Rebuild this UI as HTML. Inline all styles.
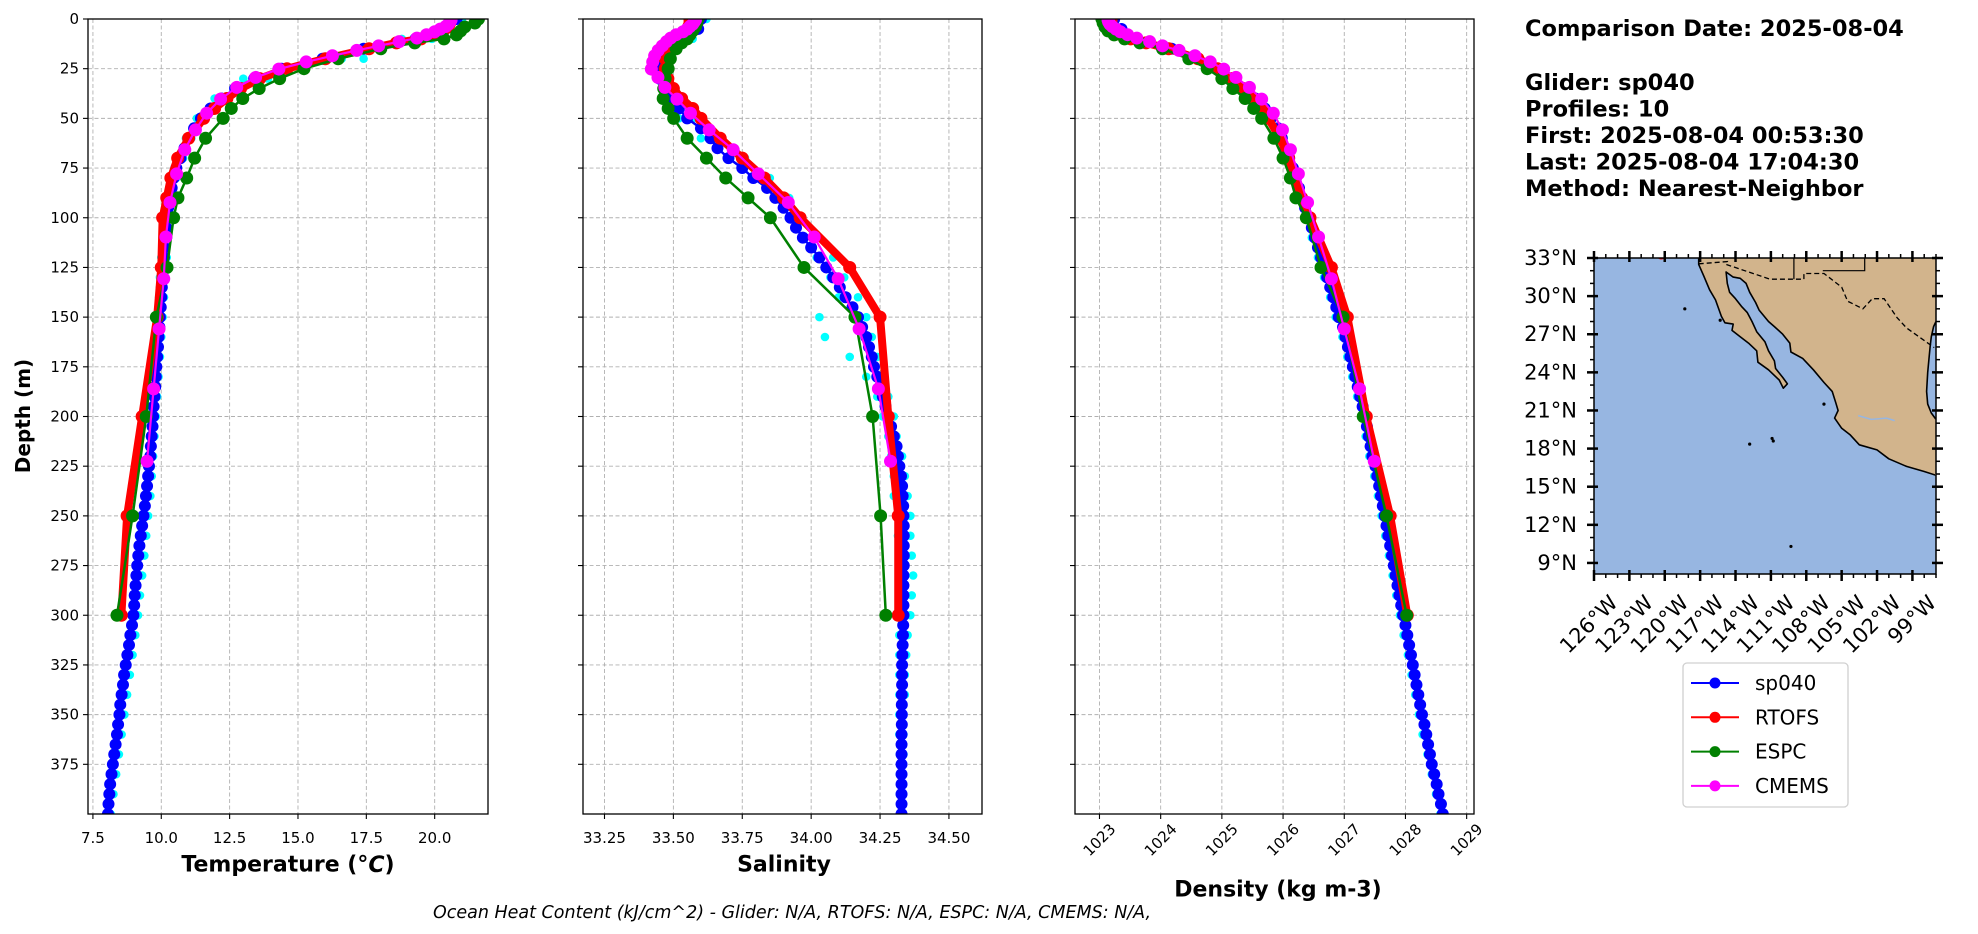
<!DOCTYPE html>
<html><head><meta charset="utf-8"><style>
html,body{margin:0;padding:0;background:#fff;}
svg{display:block;font-family:"DejaVu Sans","Liberation Sans",sans-serif;}
</style></head><body>
<svg id="fig" width="1978" height="934" viewBox="0 0 1978 934" xmlns="http://www.w3.org/2000/svg">
<defs>
<clipPath id="clip0"><rect x="88" y="19" width="400" height="795"/></clipPath>
<clipPath id="clip1"><rect x="583" y="19" width="399" height="795"/></clipPath>
<clipPath id="clip2"><rect x="1075" y="19" width="399" height="795"/></clipPath>
<clipPath id="clipmap"><rect x="1594" y="258" width="342" height="316"/></clipPath>
</defs>
<text x="23" y="416" transform="rotate(-90 23 416)" text-anchor="middle" dominant-baseline="central" font-size="20" font-weight="bold">Depth (m)</text>
<text x="288" y="865" text-anchor="middle" dominant-baseline="central" font-size="22" font-weight="bold">Temperature (°<tspan font-style="italic">C</tspan>)</text>
<text x="784" y="865" text-anchor="middle" dominant-baseline="central" font-size="22" font-weight="bold">Salinity</text>
<text x="1278" y="890" text-anchor="middle" dominant-baseline="central" font-size="22" font-weight="bold">Density (kg m-3)</text>
<text x="792" y="913" text-anchor="middle" dominant-baseline="central" font-size="17.5" font-style="italic">Ocean Heat Content (kJ/cm^2) - Glider: N/A,  RTOFS: N/A,  ESPC: N/A,  CMEMS: N/A,</text>
<g font-size="22.5" font-weight="bold">
<text x="1525" y="36">Comparison Date: 2025-08-04</text>
<text x="1525" y="90">Glider: sp040</text>
<text x="1525" y="116.5">Profiles: 10</text>
<text x="1525" y="143">First: 2025-08-04 00:53:30</text>
<text x="1525" y="169.5">Last: 2025-08-04 17:04:30</text>
<text x="1525" y="196">Method: Nearest-Neighbor</text>
</g>
<g id="panels"></g>
<g id="map"></g>
<g id="legend"></g>
</svg>
<script>
// ---- data ----
const gliderDepth = [0,5,10,15,20,25,30,35,40,45,50,55,60,65,70,75,80,85,90,95,100,105,110,115,120,125,130,135,140,145,150,155,160,165,170,175,180,185,190,195,200,205,210,215,220,225,230,235,240,245,250,255,260,265,270,275,280,285,290,295,300,305,310,315,320,325,330,335,340,345,350,355,360,365,370,375,380,385,390,395,400];
const gliderTemp = [20.8,20.4,19.3,17.4,15.9,14.4,13.4,12.7,12.2,11.8,11.45,11.2,11.0,10.85,10.7,10.55,10.45,10.38,10.3,10.25,10.2,10.18,10.15,10.12,10.1,10.08,10.05,10.02,10.0,9.98,9.95,9.93,9.9,9.88,9.85,9.82,9.8,9.78,9.75,9.72,9.7,9.68,9.65,9.62,9.6,9.55,9.52,9.48,9.44,9.4,9.35,9.3,9.25,9.2,9.16,9.12,9.09,9.06,9.03,9.01,8.98,8.93,8.87,8.82,8.76,8.7,8.64,8.6,8.55,8.5,8.47,8.42,8.38,8.33,8.28,8.23,8.18,8.13,8.1,8.07,8.05];
const gliderSal = [33.6,33.59,33.55,33.5,33.46,33.44,33.45,33.47,33.49,33.52,33.55,33.6,33.635,33.66,33.7,33.75,33.79,33.84,33.87,33.9,33.925,33.945,33.97,34.0,34.03,34.055,34.08,34.104,34.125,34.15,34.17,34.185,34.2,34.21,34.22,34.228,34.24,34.25,34.26,34.27,34.28,34.29,34.3,34.31,34.315,34.32,34.326,34.33,34.332,34.334,34.335,34.336,34.336,34.336,34.336,34.336,34.335,34.335,34.335,34.335,34.335,34.334,34.333,34.332,34.331,34.33,34.33,34.33,34.329,34.329,34.329,34.329,34.328,34.328,34.328,34.328,34.328,34.328,34.328,34.328,34.328];
const gliderDens = [1023.24,1023.36,1023.61,1024.18,1024.61,1024.93,1025.18,1025.38,1025.55,1025.70,1025.80,1025.92,1025.98,1026.04,1026.10,1026.16,1026.21,1026.26,1026.31,1026.36,1026.40,1026.47,1026.52,1026.57,1026.62,1026.67,1026.72,1026.77,1026.82,1026.87,1026.91,1026.98,1027.02,1027.06,1027.10,1027.14,1027.18,1027.22,1027.26,1027.30,1027.33,1027.37,1027.40,1027.43,1027.46,1027.51,1027.54,1027.57,1027.60,1027.63,1027.66,1027.69,1027.72,1027.75,1027.78,1027.81,1027.84,1027.87,1027.90,1027.93,1027.96,1028.0,1028.03,1028.06,1028.09,1028.12,1028.15,1028.18,1028.21,1028.24,1028.27,1028.31,1028.34,1028.37,1028.40,1028.43,1028.47,1028.51,1028.54,1028.58,1028.61];

const profDepth = [0,10,20,30,40,50,60,70,80,90,100,110,120,130,140,150,160,170,180,190,200,210,220,230,240,250,260,270,280,290,300,310,320,330,340,350,360,370,380,390,400];
const profTempA = [21.0,19.9,17.4,13.9,12.4,11.6,11.1,10.8,10.55,10.4,10.3,10.25,10.2,10.15,10.1,10.05,10.0,9.95,9.9,9.85,9.8,9.75,9.7,9.65,9.6,9.52,9.45,9.38,9.3,9.22,9.15,9.05,8.95,8.85,8.75,8.65,8.55,8.45,8.35,8.25,8.15];
const profTempB = [20.6,18.8,16.6,13.0,11.95,11.3,10.9,10.6,10.4,10.25,10.12,10.05,10.0,9.95,9.92,9.88,9.83,9.78,9.74,9.7,9.65,9.6,9.55,9.5,9.45,9.38,9.3,9.22,9.15,9.08,9.0,8.9,8.8,8.7,8.6,8.5,8.42,8.35,8.25,8.15,8.0];
const profSalA = [33.62,33.57,33.48,33.47,33.5,33.57,33.67,33.76,33.85,33.92,33.96,34.02,34.08,34.12,34.17,34.2,34.22,34.24,34.26,34.28,34.3,34.31,34.33,34.34,34.35,34.36,34.36,34.365,34.37,34.365,34.36,34.35,34.345,34.34,34.34,34.335,34.335,34.335,34.33,34.33,34.33];
const profSalB = [33.58,33.52,33.43,33.44,33.46,33.52,33.6,33.7,33.8,33.87,33.92,33.97,34.02,34.07,34.1,34.03,34.05,34.14,34.2,34.24,34.26,34.28,34.29,34.3,34.3,34.31,34.315,34.32,34.325,34.325,34.32,34.32,34.32,34.32,34.32,34.32,34.32,34.322,34.322,34.322,34.322];
const profDensA = [1023.19,1023.56,1024.45,1025.03,1025.45,1025.72,1025.90,1026.04,1026.16,1026.26,1026.35,1026.47,1026.57,1026.67,1026.77,1026.86,1026.97,1027.05,1027.13,1027.21,1027.29,1027.35,1027.41,1027.49,1027.55,1027.61,1027.67,1027.73,1027.79,1027.85,1027.91,1027.97,1028.04,1028.1,1028.16,1028.22,1028.28,1028.36,1028.43,1028.50,1028.57];

const modelDepth = [0,2,4,6,8,10,12,15,20,25,30,35,40,45,50,60,70,80,90,100,125,150,200,250,300];
const rtofsTemp = [20.6,20.55,20.5,20.3,20.0,19.5,18.6,17.6,16.0,14.6,13.6,12.9,12.4,11.95,11.55,11.0,10.6,10.35,10.2,10.05,10.0,9.85,9.3,8.75,8.54];
const rtofsSal = [33.56,33.56,33.555,33.55,33.54,33.52,33.5,33.48,33.47,33.47,33.48,33.5,33.53,33.57,33.6,33.67,33.75,33.83,33.9,33.96,34.14,34.25,34.28,34.316,34.316];
const rtofsDens = [1023.19,1023.19,1023.21,1023.27,1023.36,1023.51,1023.76,1024.13,1024.61,1024.93,1025.16,1025.35,1025.50,1025.65,1025.76,1025.95,1026.09,1026.20,1026.30,1026.44,1026.79,1027.05,1027.36,1027.75,1028.03];
const espcTemp = [21.6,21.47,21.1,20.95,20.8,20.34,19.27,18.03,16.47,15.22,14.33,13.58,12.98,12.56,12.26,11.62,11.22,10.93,10.61,10.45,10.21,9.82,9.45,8.95,8.38];
const espcSal = [33.59,33.585,33.58,33.57,33.56,33.55,33.53,33.51,33.489,33.481,33.47,33.465,33.463,33.481,33.501,33.55,33.62,33.69,33.771,33.852,33.974,34.159,34.223,34.252,34.271];
const espcDens = [1023.04,1023.06,1023.09,1023.14,1023.24,1023.41,1023.66,1024.03,1024.46,1024.76,1025.00,1025.18,1025.38,1025.52,1025.65,1025.85,1026.00,1026.12,1026.21,1026.38,1026.62,1026.98,1027.31,1027.69,1028.02];

const cmemsDepth = [0.5,1.5,2.6,3.8,5.1,6.4,7.9,9.6,11.4,13.5,15.8,18.5,21.6,25.2,29.4,34.4,40.3,47.4,55.8,65.8,77.9,92.3,109.7,130.7,155.9,186.1,222.5];
const cmemsTemp = [20.6,20.55,20.5,20.4,20.2,20.0,19.7,19.35,18.7,17.95,17.15,16.26,15.3,14.3,13.45,12.76,12.17,11.66,11.25,10.86,10.56,10.32,10.17,10.09,9.92,9.72,9.48];
const cmemsSal = [33.58,33.575,33.57,33.56,33.55,33.535,33.51,33.49,33.475,33.46,33.445,33.432,33.425,33.42,33.444,33.469,33.513,33.562,33.63,33.717,33.808,33.917,34.011,34.098,34.174,34.244,34.288];
const cmemsDens = [1023.14,1023.15,1023.17,1023.21,1023.27,1023.34,1023.46,1023.61,1023.82,1024.03,1024.30,1024.56,1024.81,1025.03,1025.23,1025.45,1025.65,1025.84,1025.99,1026.12,1026.25,1026.40,1026.58,1026.79,1027.00,1027.25,1027.49];

const depthTicks = [0,25,50,75,100,125,150,175,200,225,250,275,300,325,350,375];
const tempTicks = [7.5,10,12.5,15,17.5,20];
const tempTickLabels = ["7.5","10.0","12.5","15.0","17.5","20.0"];
const salTicks = [33.25,33.5,33.75,34.0,34.25,34.5];
const salTickLabels = ["33.25","33.50","33.75","34.00","34.25","34.50"];
const densTicks = [1023,1024,1025,1026,1027,1028,1029];
const densTickLabels = ["1023","1024","1025","1026","1027","1028","1029"];

const latTicks = [33,30,27,24,21,18,15,12,9];
const lonTicks = [-126,-123,-120,-117,-114,-111,-108,-105,-102,-99];

// ---- drawing ----
const NS = "http://www.w3.org/2000/svg";
function mk(tag, attrs, parent){ const e=document.createElementNS(NS,tag); for(const k in attrs) e.setAttribute(k,attrs[k]); parent.appendChild(e); return e; }
const Y0=19, YH=795, DMAX=400;
function yScale(d){ return Y0 + d/DMAX*YH; }
const panelsG = document.getElementById('panels');
const panels = [
 {x0:88,w:400,lo:7.32,hi:21.95,ticks:tempTicks,labels:tempTickLabels,name:'temperature',rot:false,
  glider:gliderTemp,profA:profTempA,profB:profTempB,rtofs:rtofsTemp,espc:espcTemp,cmems:cmemsTemp},
 {x0:583,w:399,lo:33.172,hi:34.62,ticks:salTicks,labels:salTickLabels,name:'salinity',rot:false,
  glider:gliderSal,profA:profSalA,profB:profSalB,rtofs:rtofsSal,espc:espcSal,cmems:cmemsSal},
 {x0:1075,w:399,lo:1022.6,hi:1029.12,ticks:densTicks,labels:densTickLabels,name:'density',rot:true,
  glider:gliderDens,profA:profDensA,profB:null,rtofs:rtofsDens,espc:espcDens,cmems:cmemsDens}
];
panels.forEach((p,pi)=>{
  const xScale = v => p.x0 + (v-p.lo)/(p.hi-p.lo)*p.w;
  const g = mk('g',{},panelsG);
  
  
  const grid = mk('g',{stroke:'#b0b0b0','stroke-width':0.9,'stroke-dasharray':'4,2.5'},g);
  
  
  p.ticks.forEach(t=>{ const x=xScale(t); mk('line',{x1:x,x2:x,y1:Y0,y2:Y0+YH},grid); });
  depthTicks.forEach(d=>{ const y=yScale(d); mk('line',{x1:p.x0,x2:p.x0+p.w,y1:y,y2:y},grid); });
  const dg = mk('g',{'clip-path':'url(#clip'+pi+')'},g);
  
  
  function drawSeries(depths, vals, color, lw, r, nm, noLine){
    const sg = mk('g',{},dg);
    
    
    if(!noLine){
      const pts = vals.map((v,i)=>xScale(v).toFixed(2)+','+yScale(depths[i]).toFixed(2)).join(' ');
      mk('polyline',{points:pts,fill:'none',stroke:color,'stroke-width':lw,'stroke-linejoin':'round'},sg);
    }
    vals.forEach((v,i)=>{ mk('circle',{cx:xScale(v).toFixed(2),cy:yScale(depths[i]).toFixed(2),r:r,fill:color},sg); });
  }
  drawSeries(profDepth,p.profA,'#00ffff',0,4.3,p.name+'-profile-a',true);
  if(p.profB) drawSeries(profDepth,p.profB,'#00ffff',0,4.3,p.name+'-profile-b',true);
  drawSeries(gliderDepth,p.glider,'#0000ff',2.5,6,p.name+'-sp040');
  drawSeries(modelDepth,p.rtofs,'#ff0000',8,6.5,p.name+'-rtofs');
  drawSeries(modelDepth,p.espc,'#008000',2.5,6.5,p.name+'-espc');
  drawSeries(cmemsDepth,p.cmems,'#ff00ff',2.2,6.5,p.name+'-cmems');
  const fr = mk('rect',{x:p.x0,y:Y0,width:p.w,height:YH,fill:'none',stroke:'#000','stroke-width':1.3},g);
  
  
  const tg = mk('g',{'font-size':15},g);
  
  
  p.ticks.forEach((t,i)=>{
    const x=xScale(t);
    mk('line',{x1:x,x2:x,y1:Y0+YH,y2:Y0+YH+5,stroke:'#000','stroke-width':1.1},tg);
    let tx;
    if(p.rot){
      tx = mk('text',{x:x,y:840,'text-anchor':'middle','dominant-baseline':'central',transform:'rotate(-45 '+x+' 840)'},tg);
    } else {
      tx = mk('text',{x:x,y:838,'text-anchor':'middle','dominant-baseline':'central'},tg);
    }
    tx.textContent = p.labels[i];
  });
  const yg = mk('g',{'font-size':15},g);
  
  
  depthTicks.forEach(d=>{
    const y=yScale(d);
    mk('line',{x1:p.x0-5,x2:p.x0,y1:y,y2:y,stroke:'#000','stroke-width':1.1},yg);
    if(pi===0){ const tx=mk('text',{x:p.x0-9,y:y,'text-anchor':'end','dominant-baseline':'central'},yg); tx.textContent=String(d); }
  });
});

// ---- map ----
const MX0=1594, MX1=1936, MY0=258, MY1=574;
const LON0=-126, LON1=-97.0, LAT0=8.13, LAT1=33;
function mx(lon){ return MX0 + (lon-LON0)/(LON1-LON0)*(MX1-MX0); }
function my(lat){ return MY1 - (lat-LAT0)/(LAT1-LAT0)*(MY1-MY0); }
const mexicoCoast = [[-117.12,33],[-97,33],[-97,28.0],[-97.2,27.6],[-97.4,26.8],[-97.5,26],[-97.6,25],[-97.7,24],[-97.8,22.5],[-97.7,21.5],[-97.4,20.8],[-97,20.3],[-97,15.9],[-98,16.2],[-99.5,16.6],[-101,17.2],[-102,17.9],[-103.5,18.3],[-104.3,19.1],[-105,19.6],[-105.6,20.4],[-105.3,21],[-105.5,21.6],[-105.8,22.5],[-106.5,23.2],[-107.4,24.2],[-108.3,25.1],[-109.3,25.6],[-109.4,26.3],[-110.0,27],[-110.7,27.6],[-111.2,28],[-112.0,28.9],[-112.3,29.5],[-112.8,30.3],[-113.1,31.0],[-113.6,31.4],[-114.2,31.5],[-114.8,31.9],[-114.7,31.0],[-114.5,30.3],[-114.0,29.8],[-113.5,29.2],[-113,28.7],[-112.6,28.0],[-112.2,27.2],[-111.5,26.4],[-111.2,25.7],[-110.7,24.9],[-110.6,24.3],[-110.0,23.6],[-109.6,23.1],[-109.95,22.75],[-110.3,23.4],[-111.2,24.2],[-112.1,24.8],[-112.2,25.7],[-112.9,26.3],[-113.6,26.8],[-114.3,27.3],[-114.2,27.8],[-114.9,27.9],[-115.2,28.4],[-115.7,29.7],[-116.2,30.5],[-116.7,31.6],[-117.12,32.5]];
const borderLine = [[-117.12,32.54],[-114.7,32.72],[-114.8,32.5],[-111.07,31.33],[-108.2,31.33],[-108.2,31.78],[-106.5,31.78],[-105,30.7],[-104.5,29.6],[-103.2,29.0],[-102.4,29.8],[-101.4,29.8],[-100.3,28.3],[-99.5,27.5],[-97.15,25.95]];
const stateLineA = [[-109.05,33],[-109.05,31.33]];
const stateLineB = [[-103.05,33],[-103.05,32.0],[-106.6,32.0]];
const riverLine = [[-103.6,20.6],[-102.5,20.3],[-101.2,20.4],[-100.5,20.2]];
const mapG = document.getElementById('map');
const sea = mk('rect',{x:MX0,y:MY0,width:MX1-MX0,height:MY1-MY0,fill:'#97b6e1'},mapG);


const mc = mk('g',{'clip-path':'url(#clipmap)'},mapG);
const toPts = arr => arr.map(p=>mx(p[0]).toFixed(1)+','+my(p[1]).toFixed(1)).join(' ');
const land = mk('polygon',{points:toPts(mexicoCoast),fill:'#d2b48c',stroke:'#000','stroke-width':1.6,'stroke-linejoin':'round'},mc);


mk('polyline',{points:toPts([[-97,33],[-97,28.0]]),fill:'none',stroke:'#d2b48c','stroke-width':2},mc);
mk('polyline',{points:toPts([[-97,20.3],[-97,15.9]]),fill:'none',stroke:'#d2b48c','stroke-width':2},mc);
mk('polyline',{points:toPts([[-117.12,33],[-97,33]]),fill:'none',stroke:'#d2b48c','stroke-width':2},mc);
const border = mk('polyline',{points:toPts(borderLine),fill:'none',stroke:'#000','stroke-width':1.3,'stroke-dasharray':'5,3'},mc);


mk('polyline',{points:toPts(stateLineA),fill:'none',stroke:'#000','stroke-width':1.2},mc);
mk('polyline',{points:toPts(stateLineB),fill:'none',stroke:'#000','stroke-width':1.2},mc);
mk('polyline',{points:toPts(riverLine),fill:'none',stroke:'#97b6e1','stroke-width':1.5},mc);
const gl = mk('ellipse',{cx:mx(-120.3),cy:my(33),rx:3,ry:1.5,fill:'#ff0000'},mc);


[[-118.3,29.0],[-115.3,28.1],[-110.9,18.8],[-112.8,18.35],[-110.8,18.6],[-106.5,21.5],[-109.3,10.3]].forEach(p=>{ mk('circle',{cx:mx(p[0]),cy:my(p[1]),r:1.6,fill:'#000'},mc); });
mk('rect',{x:MX0,y:MY0,width:MX1-MX0,height:MY1-MY0,fill:'none',stroke:'#000','stroke-width':1.5},mapG);
const mt = mk('g',{'font-size':21},mapG);


for(let lat=9; lat<=33; lat++){
  const y=my(lat), major=(lat%3===0);
  const L = major?7:4;
  mk('line',{x1:MX0-L,x2:MX0+(major?4:0),y1:y,y2:y,stroke:'#000','stroke-width':major?2.5:1.5},mt);
  mk('line',{x1:MX1+L,x2:MX1-(major?4:0),y1:y,y2:y,stroke:'#000','stroke-width':major?2.5:1.5},mt);
}
for(let lon=-126; lon<=-97; lon++){
  const x=mx(lon), major=((lon+126)%3===0);
  const L = major?7:4;
  mk('line',{x1:x,x2:x,y1:MY0-L,y2:MY0+(major?4:0),stroke:'#000','stroke-width':major?2.5:1.5},mt);
  mk('line',{x1:x,x2:x,y1:MY1+L,y2:MY1-(major?4:0),stroke:'#000','stroke-width':major?2.5:1.5},mt);
}
latTicks.forEach(lat=>{ const t=mk('text',{x:1577,y:my(lat),'text-anchor':'end','dominant-baseline':'central'},mt); t.textContent=lat+'°N'; });
lonTicks.forEach(lon=>{ const x=mx(lon)+25, y=604; const t=mk('text',{x:x,y:y,'text-anchor':'end',transform:'rotate(-45 '+x+' '+y+')'},mt); t.textContent=(-lon)+'°W'; });

// ---- legend ----
const legendNames = ['sp040','RTOFS','ESPC','CMEMS'];
const legendColors = ['#0000ff','#ff0000','#008000','#ff00ff'];
const lg = document.getElementById('legend');
mk('rect',{x:1683,y:663,width:165,height:144,rx:4,fill:'#fff',stroke:'#d0d0d0','stroke-width':1.3},lg);
legendNames.forEach((n,i)=>{
  const y=683+i*34.3;
  const e=mk('g',{},lg);
  
  
  mk('line',{x1:1691,x2:1739,y1:y,y2:y,stroke:legendColors[i],'stroke-width':2},e);
  mk('circle',{cx:1715,cy:y,r:5.5,fill:legendColors[i]},e);
  const t=mk('text',{x:1755,y:y,'dominant-baseline':'central','font-size':20},e);
  t.textContent=n;
});
</script>
</body></html>
